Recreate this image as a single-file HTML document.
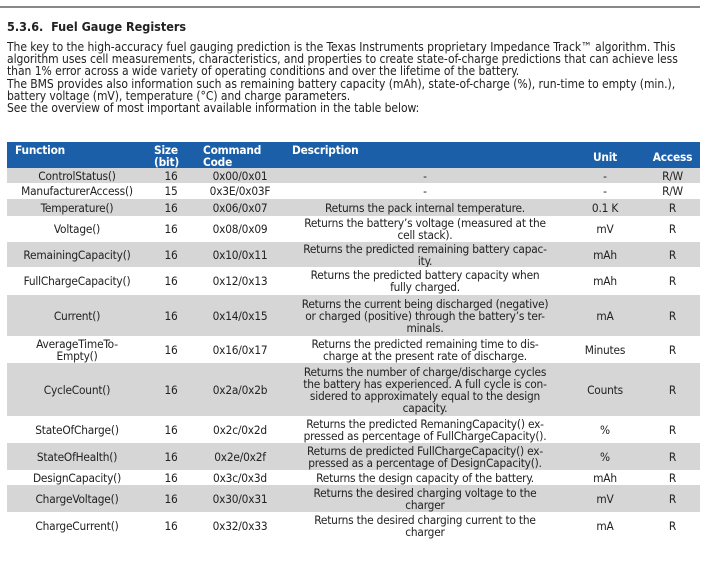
<!DOCTYPE html>
<html><head><meta charset="utf-8"><style>
body{margin:0;width:721px;height:581px;background:#fff;position:relative;overflow:hidden;font-family:"DejaVu Sans Condensed","Liberation Sans",sans-serif;color:#222}
.rule{position:absolute;left:0;top:6px;width:700px;height:2px;background:#888}
h3{position:absolute;left:7px;top:19px;margin:0;font-size:12.5px;font-weight:bold;white-space:nowrap}
.p{position:absolute;left:7px;top:41px;font-size:12px;line-height:12.2px;white-space:nowrap;letter-spacing:-0.05px}
table{position:absolute;left:7px;top:142px;border-collapse:collapse;table-layout:fixed;width:693px;font-size:11.8px;letter-spacing:-0.2px}
td{padding:0;text-align:center;vertical-align:middle;line-height:12px;overflow:hidden}
tr.g td{background:#d6d6d6}
tr.h td{background:#1a5fa8;color:#fff;font-weight:bold;text-align:left;vertical-align:top;padding-top:2px;line-height:12px}
tr.h td.c{text-align:center;vertical-align:middle;padding-top:4px}
</style></head><body>
<div class="rule"></div>
<h3>5.3.6.&nbsp; Fuel Gauge Registers</h3>
<div class="p">The key to the high-accuracy fuel gauging prediction is the Texas Instruments proprietary Impedance Track™ algorithm. This<br>algorithm uses cell measurements, characteristics, and properties to create state-of-charge predictions that can achieve less<br>than 1% error across a wide variety of operating conditions and over the lifetime of the battery.<br>The BMS provides also information such as remaining battery capacity (mAh), state-of-charge (%), run-time to empty (min.),<br>battery voltage (mV), temperature (°C) and charge parameters.<br>See the overview of most important available information in the table below:</div>
<table>
<colgroup><col style="width:140px"><col style="width:48px"><col style="width:90px"><col style="width:280px"><col style="width:80px"><col style="width:55px"></colgroup>
<tr class="h" style="height:26px"><td style="padding-left:8px">Function</td><td style="padding-left:7px">Size<br>(bit)</td><td style="padding-left:8px">Command<br>Code</td><td style="padding-left:7px">Description</td><td class="c">Unit</td><td class="c">Access</td></tr>
<tr class="g" style="height:15px"><td>ControlStatus()</td><td>16</td><td>0x00/0x01</td><td>-</td><td>-</td><td>R/W</td></tr>
<tr style="height:16px"><td>ManufacturerAccess()</td><td>15</td><td>0x3E/0x03F</td><td>-</td><td>-</td><td>R/W</td></tr>
<tr class="g" style="height:17px"><td>Temperature()</td><td>16</td><td>0x06/0x07</td><td>Returns the pack internal temperature.</td><td>0.1 K</td><td>R</td></tr>
<tr style="height:26px"><td>Voltage()</td><td>16</td><td>0x08/0x09</td><td>Returns the battery’s voltage (measured at the<br>cell stack).</td><td>mV</td><td>R</td></tr>
<tr class="g" style="height:25px"><td>RemainingCapacity()</td><td>16</td><td>0x10/0x11</td><td>Returns the predicted remaining battery capac-<br>ity.</td><td>mAh</td><td>R</td></tr>
<tr style="height:28px"><td>FullChargeCapacity()</td><td>16</td><td>0x12/0x13</td><td>Returns the predicted battery capacity when<br>fully charged.</td><td>mAh</td><td>R</td></tr>
<tr class="g" style="height:41px"><td>Current()</td><td>16</td><td>0x14/0x15</td><td>Returns the current being discharged (negative)<br>or charged (positive) through the battery’s ter-<br>minals.</td><td>mA</td><td>R</td></tr>
<tr style="height:27px"><td>AverageTimeTo-<br>Empty()</td><td>16</td><td>0x16/0x17</td><td>Returns the predicted remaining time to dis-<br>charge at the present rate of discharge.</td><td>Minutes</td><td>R</td></tr>
<tr class="g" style="height:53px"><td>CycleCount()</td><td>16</td><td>0x2a/0x2b</td><td>Returns the number of charge/discharge cycles<br>the battery has experienced. A full cycle is con-<br>sidered to approximately equal to the design<br>capacity.</td><td>Counts</td><td>R</td></tr>
<tr style="height:27px"><td>StateOfCharge()</td><td>16</td><td>0x2c/0x2d</td><td>Returns the predicted RemaningCapacity() ex-<br>pressed as percentage of FullChargeCapacity().</td><td>%</td><td>R</td></tr>
<tr class="g" style="height:27px"><td>StateOfHealth()</td><td>16</td><td>0x2e/0x2f</td><td>Returns de predicted FullChargeCapacity() ex-<br>pressed as a percentage of DesignCapacity().</td><td>%</td><td>R</td></tr>
<tr style="height:15px"><td>DesignCapacity()</td><td>16</td><td>0x3c/0x3d</td><td>Returns the design capacity of the battery.</td><td>mAh</td><td>R</td></tr>
<tr class="g" style="height:27px"><td>ChargeVoltage()</td><td>16</td><td>0x30/0x31</td><td>Returns the desired charging voltage to the<br>charger</td><td>mV</td><td>R</td></tr>
<tr style="height:28px"><td>ChargeCurrent()</td><td>16</td><td>0x32/0x33</td><td>Returns the desired charging current to the<br>charger</td><td>mA</td><td>R</td></tr>
</table>
</body></html>
